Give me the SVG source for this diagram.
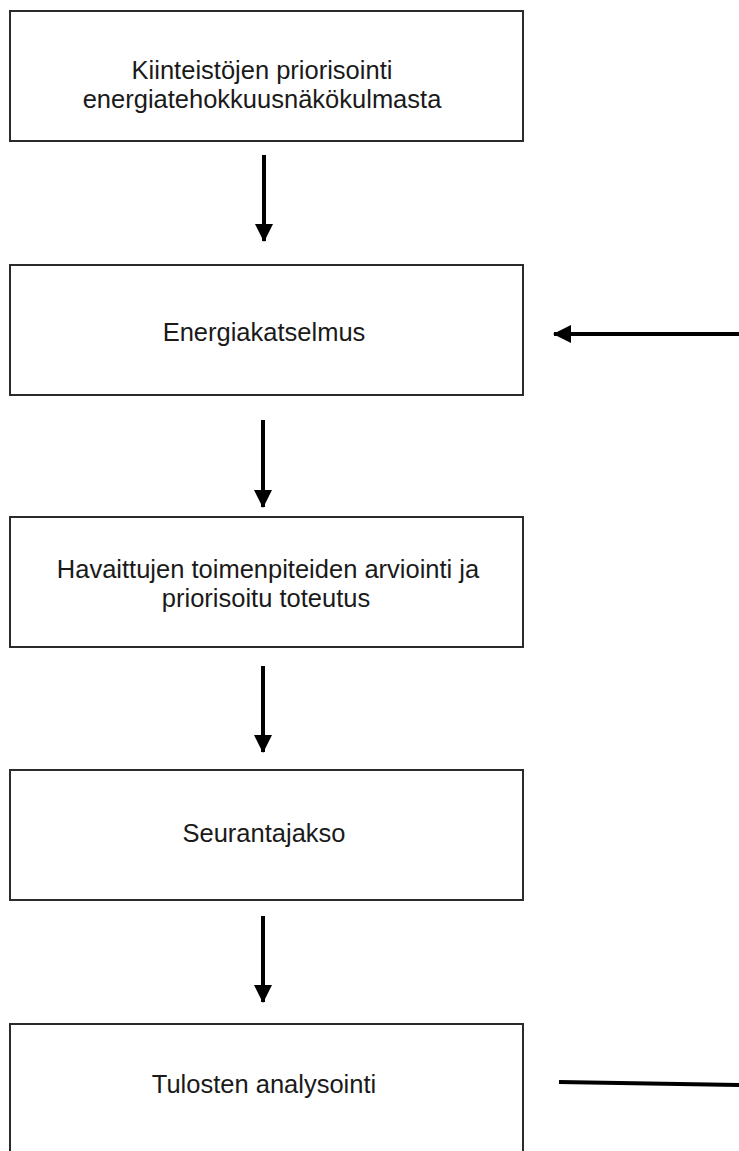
<svg xmlns="http://www.w3.org/2000/svg" width="739" height="1151" viewBox="0 0 739 1151">
<style>
.box{fill:#fff;stroke:#2b2b2b;stroke-width:2}
.t{font-family:"Liberation Sans",Arial,sans-serif;font-size:25.5px;fill:#1a1a1a;text-anchor:middle}
.c{stroke:#000;stroke-width:4;fill:none}
</style>
<defs>
<marker id="ah" markerUnits="userSpaceOnUse" markerWidth="18" markerHeight="18" viewBox="0 0 18 18" refX="17" refY="9" orient="auto">
<path d="M0,0 L18,9 L0,18 Z" fill="#000"/>
</marker>
</defs>
<rect width="739" height="1151" fill="#fff"/>
<g id="n1"><rect class="box" x="10" y="11" width="513" height="130"/>
<text class="t"><tspan x="262" y="79">Kiinteistöjen priorisointi</tspan><tspan x="262" y="108">energiatehokkuusnäkökulmasta</tspan></text></g>
<g id="n2"><rect class="box" x="10" y="265" width="513" height="130"/>
<text class="t" x="264" y="341">Energiakatselmus</text></g>
<g id="n3"><rect class="box" x="10" y="517" width="513" height="130"/>
<text class="t"><tspan x="268" y="578">Havaittujen toimenpiteiden arviointi ja</tspan><tspan x="266" y="607">priorisoitu toteutus</tspan></text></g>
<g id="n4"><rect class="box" x="10" y="770" width="513" height="130"/>
<text class="t" x="264" y="842">Seurantajakso</text></g>
<g id="n5"><rect class="box" x="10" y="1024" width="513" height="140"/>
<text class="t" x="264" y="1093">Tulosten analysointi</text></g>
<g id="connectors">
<line class="c" x1="264" y1="155" x2="264" y2="241" marker-end="url(#ah)"/>
<line class="c" x1="263" y1="420" x2="263" y2="507" marker-end="url(#ah)"/>
<line class="c" x1="263" y1="666" x2="263" y2="752" marker-end="url(#ah)"/>
<line class="c" x1="263" y1="916" x2="263" y2="1002" marker-end="url(#ah)"/>
<line class="c" x1="739" y1="334" x2="554" y2="334" marker-end="url(#ah)"/>
<line class="c" x1="559" y1="1082" x2="739" y2="1085"/>
</g>
</svg>
